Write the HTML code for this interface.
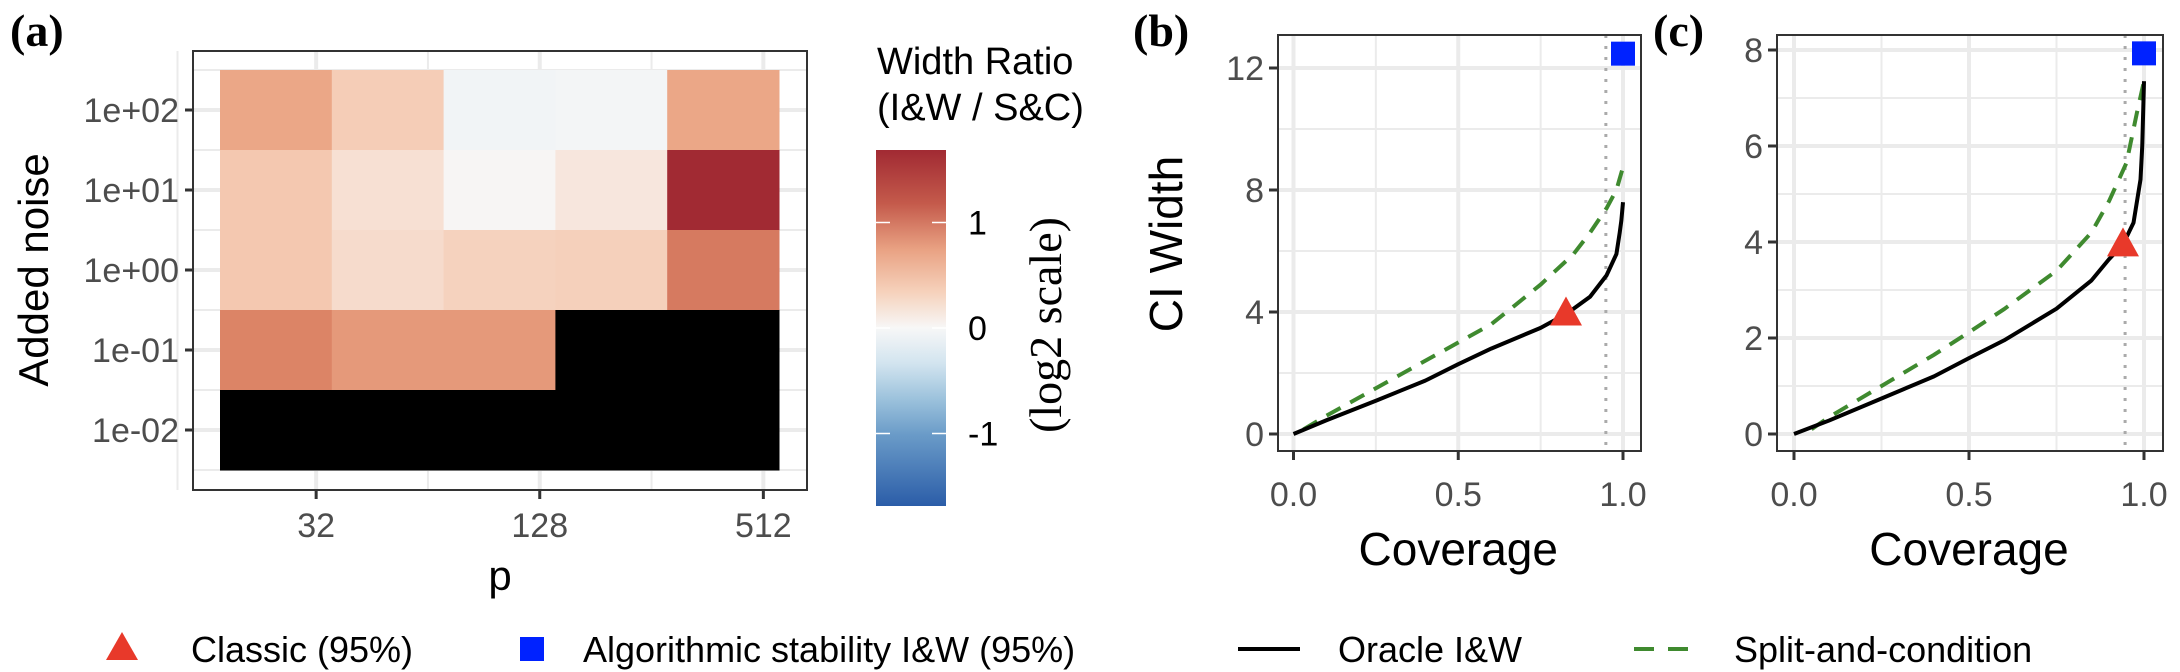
<!DOCTYPE html>
<html><head><meta charset="utf-8"><style>
html,body{margin:0;padding:0;background:#fff;}
svg{display:block;}
text{font-family:"Liberation Sans",sans-serif;}
text.serif{font-family:"Liberation Serif",serif;}
</style></head><body>
<svg id="fig" width="2180" height="672" viewBox="0 0 2180 672" xmlns="http://www.w3.org/2000/svg">
<defs>
<linearGradient id="cbgrad" x1="0" y1="1" x2="0" y2="0">
<stop offset="0" stop-color="#2B5DA8"/><stop offset="0.2" stop-color="#6A9BC8"/><stop offset="0.3" stop-color="#9CC2DC"/><stop offset="0.4" stop-color="#D2E4EF"/><stop offset="0.5" stop-color="#F7F7F7"/><stop offset="0.6" stop-color="#F6D2BC"/><stop offset="0.72" stop-color="#E9A283"/><stop offset="0.85" stop-color="#C45A4B"/><stop offset="1" stop-color="#A12A33"/>
</linearGradient>
</defs>
<g id="pa"></g>
<g id="pb"></g>
<g id="pc"></g>
<g id="legend"></g>
</svg>
<script>
// ---------- data ----------
const noiseLabels = ["1e+02","1e+01","1e+00","1e-01","1e-02"];
const pTickLabels = ["32","128","512"];
const pTickIndex = [1.36,3.36,5.36];
const row1e02 = [0.75,0.45,-0.08,-0.06,0.75];
const row1e01 = [0.5,0.25,0.02,0.18,1.7];
const row1e00 = [0.5,0.3,0.4,0.42,1.07];
const row1em1 = [1.0,0.85,0.85,null,null];
const row1em2 = [null,null,null,null,null];
const cbTicks = [1,0,-1];

const bCovOracle = [0,0.1,0.25,0.4,0.5,0.6,0.75,0.83,0.9,0.95,0.98,0.99,0.995,1.0];
const bWOracle   = [0,0.45,1.09,1.75,2.29,2.8,3.48,3.95,4.5,5.2,5.9,6.6,7.0,7.6];
const bCovSplit  = [0.03,0.1,0.25,0.4,0.5,0.6,0.67,0.75,0.85,0.9,0.95,0.98,1.0];
const bWSplit    = [0.15,0.6,1.5,2.4,3.0,3.6,4.2,4.9,5.9,6.6,7.4,8.0,8.75];
const bClassic = [0.827,3.95];
const bAlgo = [1.0,12.47];
const bCutoff = 0.948;
const bYTicks = [0,4,8,12];

const cCovOracle = [0,0.1,0.25,0.4,0.5,0.6,0.75,0.85,0.9,0.94,0.97,0.99,0.995,1.0];
const cWOracle   = [0,0.28,0.74,1.2,1.58,1.95,2.61,3.2,3.64,3.95,4.4,5.3,6.0,7.35];
const cCovSplit  = [0.05,0.1,0.25,0.4,0.5,0.6,0.75,0.85,0.9,0.95,0.98,1.0];
const cWSplit    = [0.1,0.35,1.0,1.65,2.12,2.6,3.4,4.2,4.85,5.65,6.7,7.35];
const cClassic = [0.94,3.95];
const cAlgo = [1.0,7.93];
const cCutoff = 0.946;
const cYTicks = [0,2,4,6,8];
const xTicks = [0,0.5,1.0];
const xTickLabels = ["0.0","0.5","1.0"];

// ---------- helpers ----------
const NS="http://www.w3.org/2000/svg";
function mk(parent,tag,attrs,txt){const e=document.createElementNS(NS,tag);for(const k in attrs)e.setAttribute(k,attrs[k]);if(txt!==undefined)e.textContent=txt;parent.appendChild(e);return e;}
function hex(c){return [parseInt(c.slice(1,3),16),parseInt(c.slice(3,5),16),parseInt(c.slice(5,7),16)];}
const stopsV=[-1.7,-1,-0.5,0,0.25,0.5,0.75,1.0,1.3,1.7];
const stopsC=["#2B5DA8","#8CB5D5","#D2E4EF","#F7F7F7","#F7E0D3","#F4C8B0","#EBA787","#DC8466","#C45A4B","#A12A33"];
function colorOf(v){if(v===null)return "#000000";v=Math.max(-1.7,Math.min(1.7,v));for(let i=0;i<stopsV.length-1;i++){if(v<=stopsV[i+1]){const t=(v-stopsV[i])/(stopsV[i+1]-stopsV[i]);const a=hex(stopsC[i]),b=hex(stopsC[i+1]);return "rgb("+a.map((x,j)=>Math.round(x+(b[j]-x)*t)).join(",")+")";}}return stopsC[stopsC.length-1];}

// ---------- panel a ----------
const pa=document.getElementById('pa');
const PL=193,PR=807,PT=51,PB=490, TX0=220, TW=111.8, TY0=70, TH=80;
const colX=i=>TX0+i*TW; const rowY=j=>TY0+j*TH;
let e=mk(pa,'rect',{x:PL,y:PT,width:PR-PL,height:PB-PT,fill:'#fff'});


[0.12,1.36,2.36,3.36,4.36,5.36].forEach((c,i)=>{const x=colX(0)+(c-0.5)*TW; const g=mk(pa,'line',{x1:x,y1:PT,x2:x,y2:PB,stroke:'#ebebeb','stroke-width':(i%2===1)?4:2});});
for(let j=0;j<=10;j++){const y=TY0+j*TH/2; const g=mk(pa,'line',{x1:PL,y1:y,x2:PR,y2:y,stroke:'#ebebeb','stroke-width':(j%2===1)?4:2});}
const rows=[row1e02,row1e01,row1e00,row1em1,row1em2];
rows.forEach((r,j)=>r.forEach((v,i)=>{const c=mk(pa,'rect',{x:colX(i),y:rowY(j),width:TW+0.5,height:TH+0.5,fill:colorOf(v)});}));
e=mk(pa,'rect',{x:PL,y:PT,width:PR-PL,height:PB-PT,fill:'none',stroke:'#333','stroke-width':2});


noiseLabels.forEach((l,j)=>{const y=rowY(j)+TH/2; mk(pa,'line',{x1:PL-8,y1:y,x2:PL,y2:y,stroke:'#333','stroke-width':3});const t=mk(pa,'text',{x:PL-14,y:y+12,'text-anchor':'end','font-size':34,fill:'#4d4d4d'},l);});
pTickLabels.forEach((l,i)=>{const x=colX(0)+(pTickIndex[i]-0.5)*TW; mk(pa,'line',{x1:x,y1:PB,x2:x,y2:PB+9,stroke:'#333','stroke-width':3});const t=mk(pa,'text',{x:x,y:537,'text-anchor':'middle','font-size':34,fill:'#4d4d4d'},l);});
e=mk(pa,'text',{x:500,y:590,'text-anchor':'middle','font-size':42,fill:'#000'},'p');


e=mk(pa,'text',{x:0,y:0,'text-anchor':'middle','font-size':42,fill:'#000',transform:'translate(48,270) rotate(-90)'},'Added noise');


e=mk(pa,'text',{class:'serif',x:10,y:46,'font-size':46,'font-weight':'bold',fill:'#000'},'(a)');


const CBX=876,CBW=70,CBT=150,CBB=506, cbY=v=>328-v*105.5;
e=mk(pa,'rect',{x:CBX,y:CBT,width:CBW,height:CBB-CBT,fill:'url(#cbgrad)'});


cbTicks.forEach(v=>{const y=cbY(v);mk(pa,'line',{x1:CBX,y1:y,x2:CBX+14,y2:y,stroke:'#fff','stroke-width':1.5});mk(pa,'line',{x1:CBX+CBW-14,y1:y,x2:CBX+CBW,y2:y,stroke:'#fff','stroke-width':1.5});const t=mk(pa,'text',{x:968,y:y+12,'font-size':34,fill:'#000'},String(v));});
e=mk(pa,'text',{x:877,y:74,'font-size':38,fill:'#000'},'Width Ratio');


e=mk(pa,'text',{x:877,y:120,'font-size':38,fill:'#000'},'(I&W / S&C)');


e=mk(pa,'text',{class:'serif',x:0,y:0,'text-anchor':'middle','font-size':46,fill:'#000',transform:'translate(1061,325) rotate(-90)'},'(log2 scale)');



// ---------- panels b, c ----------
function linePanel(g,o){
  const X=v=>o.x0+v*(o.x1-o.x0), Y=v=>o.y0-v*o.yU;
  let r=mk(g,'rect',{x:o.L,y:o.T,width:o.R-o.L,height:o.B-o.T,fill:'#fff'});
  
  [0.25,0.75].forEach(v=>mk(g,'line',{x1:X(v),y1:o.T,x2:X(v),y2:o.B,stroke:'#ebebeb','stroke-width':2}));
  o.minorY.forEach(v=>mk(g,'line',{x1:o.L,y1:Y(v),x2:o.R,y2:Y(v),stroke:'#ebebeb','stroke-width':2}));
  xTicks.forEach(v=>mk(g,'line',{x1:X(v),y1:o.T,x2:X(v),y2:o.B,stroke:'#ebebeb','stroke-width':4}));
  o.yTicks.forEach(v=>mk(g,'line',{x1:o.L,y1:Y(v),x2:o.R,y2:Y(v),stroke:'#ebebeb','stroke-width':4}));
  const cut=mk(g,'line',{x1:X(o.cut),y1:o.T,x2:X(o.cut),y2:o.B,stroke:'#aaaaaa','stroke-width':3,'stroke-dasharray':'3 8'});
  
  const sp=mk(g,'polyline',{points:o.covS.map((c,i)=>X(c)+','+Y(o.wS[i])).join(' '),fill:'none',stroke:'#3f8a2f','stroke-width':4,'stroke-dasharray':'16 11'});
  
  const orc=mk(g,'polyline',{points:o.covO.map((c,i)=>X(c)+','+Y(o.wO[i])).join(' '),fill:'none',stroke:'#000','stroke-width':4,'stroke-linejoin':'round'});
  
  const cx=X(o.cls[0]),cy=Y(o.cls[1]);
  const tri=mk(g,'polygon',{points:`${cx},${cy-17} ${cx-16},${cy+12} ${cx+16},${cy+12}`,fill:'#e8392a'});
  
  const sq=mk(g,'rect',{x:X(o.alg[0])-12,y:Y(o.alg[1])-12,width:24,height:24,fill:'#0022ff'});
  
  r=mk(g,'rect',{x:o.L,y:o.T,width:o.R-o.L,height:o.B-o.T,fill:'none',stroke:'#333','stroke-width':2});
  
  o.yTicks.forEach(v=>{mk(g,'line',{x1:o.L-9,y1:Y(v),x2:o.L,y2:Y(v),stroke:'#333','stroke-width':3});const t=mk(g,'text',{x:o.L-14,y:Y(v)+12,'text-anchor':'end','font-size':34,fill:'#4d4d4d'},String(v));});
  xTicks.forEach((v,i)=>{mk(g,'line',{x1:X(v),y1:o.B,x2:X(v),y2:o.B+9,stroke:'#333','stroke-width':3});const t=mk(g,'text',{x:X(v),y:506,'text-anchor':'middle','font-size':34,fill:'#4d4d4d'},xTickLabels[i]);});
  const xt=mk(g,'text',{x:X(0.5),y:565,'text-anchor':'middle','font-size':46,fill:'#000'},'Coverage');
  
  const pl=mk(g,'text',{class:'serif',x:o.lblX,y:46,'font-size':46,'font-weight':'bold',fill:'#000'},o.lbl);
  
}
linePanel(document.getElementById('pb'),{L:1278,R:1641,T:35,B:451,x0:1293.5,x1:1623,y0:434,yU:30.5,yTicks:bYTicks,minorY:[2,6,10],cut:bCutoff,covO:bCovOracle,wO:bWOracle,covS:bCovSplit,wS:bWSplit,cls:bClassic,alg:bAlgo,lbl:'(b)',lblX:1133});
linePanel(document.getElementById('pc'),{L:1777,R:2163,T:35,B:451,x0:1794,x1:2144,y0:434,yU:48,yTicks:cYTicks,minorY:[1,3,5,7],cut:cCutoff,covO:cCovOracle,wO:cWOracle,covS:cCovSplit,wS:cWSplit,cls:cClassic,alg:cAlgo,lbl:'(c)',lblX:1653});
e=mk(document.getElementById('pb'),'text',{x:0,y:0,'text-anchor':'middle','font-size':46,fill:'#000',transform:'translate(1182,244) rotate(-90)'},'CI Width');



// ---------- legend ----------
const lg=document.getElementById('legend'); const LY=649;
e=mk(lg,'polygon',{points:`122,${LY-17} 106,${LY+11} 138,${LY+11}`,fill:'#e8392a'});


e=mk(lg,'text',{x:191,y:LY+13,'font-size':36,fill:'#000'},'Classic (95%)');


e=mk(lg,'rect',{x:520,y:LY-12,width:24,height:24,fill:'#0022ff'});


e=mk(lg,'text',{x:583,y:LY+13,'font-size':36,fill:'#000'},'Algorithmic stability I&W  (95%)');


e=mk(lg,'line',{x1:1238,y1:LY,x2:1300,y2:LY,stroke:'#000','stroke-width':4});


e=mk(lg,'text',{x:1338,y:LY+13,'font-size':36,fill:'#000'},'Oracle I&W');


e=mk(lg,'line',{x1:1634,y1:LY,x2:1692,y2:LY,stroke:'#3f8a2f','stroke-width':4,'stroke-dasharray':'20 14'});


e=mk(lg,'text',{x:1734,y:LY+13,'font-size':36,fill:'#000'},'Split-and-condition');


</script>
</body></html>
